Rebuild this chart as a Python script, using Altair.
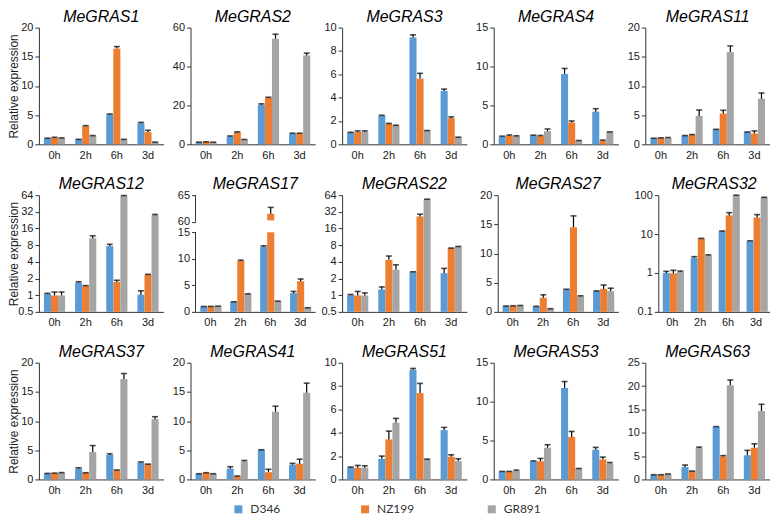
import altair as alt
import pandas as pd

# ---------------- data ----------------
times = ["0h", "2h", "6h", "3d"]
series = ["D346", "NZ199", "GR891"]
series_colors = ["#5B9BD5", "#ED7D31", "#A5A5A5"]

genes = ["MeGRAS1", "MeGRAS2", "MeGRAS3", "MeGRAS4", "MeGRAS11",
         "MeGRAS12", "MeGRAS17", "MeGRAS22", "MeGRAS27", "MeGRAS32",
         "MeGRAS37", "MeGRAS41", "MeGRAS51", "MeGRAS53", "MeGRAS63"]

# rows: D346, NZ199, GR891 ; columns: 0h, 2h, 6h, 3d
megras1_mean = [[1.0, 0.8, 5.1, 3.6], [1.1, 3.1, 16.4, 2.1], [1.05, 1.45, 0.8, 0.35]]
megras1_sd = [[0.05, 0.05, 0.1, 0.15], [0.1, 0.1, 0.35, 0.3], [0.05, 0.05, 0.05, 0.03]]
megras2_mean = [[1.0, 4.0, 20.3, 5.5], [1.2, 6.2, 23.9, 5.5], [1.0, 2.4, 54.3, 45.7]]
megras2_sd = [[0.1, 0.3, 0.5, 0.2], [0.1, 0.2, 0.3, 0.2], [0.1, 0.1, 2.3, 1.2]]
megras3_mean = [[1.0, 2.44, 9.16, 4.57], [1.06, 1.74, 5.63, 2.24], [1.06, 1.6, 1.15, 0.59]]
megras3_sd = [[0.03, 0.05, 0.22, 0.16], [0.09, 0.05, 0.45, 0.11], [0.09, 0.03, 0.03, 0.02]]
megras4_mean = [[1.0, 1.13, 9.03, 4.2], [1.1, 1.05, 2.8, 0.42], [1.05, 1.68, 0.46, 1.55]]
megras4_sd = [[0.05, 0.05, 0.72, 0.38], [0.1, 0.08, 0.2, 0.12], [0.05, 0.29, 0.03, 0.05]]
megras11_mean = [[1.0, 1.45, 2.52, 2.07], [1.06, 1.57, 5.27, 1.85], [1.06, 4.87, 15.8, 7.79]]
megras11_sd = [[0.04, 0.05, 0.05, 0.05], [0.05, 0.1, 0.56, 0.45], [0.1, 1.01, 1.06, 1.01]]
megras12_mean = [[1.05, 1.68, 7.7, 1.02], [0.99, 1.46, 1.73, 2.33], [0.99, 10.7, 62.0, 27.9]]
megras12_sd = [[0.03, 0.07, 0.6, 0.18], [0.15, 0.03, 0.13, 0.05], [0.15, 1.1, 1.0, 0.8]]
megras17_mean = [[0.99, 1.86, 12.3, 3.55], [1.0, 9.6, 61.5, 5.78], [1.05, 3.35, 2.0, 0.75]]
megras17_sd = [[0.03, 0.05, 0.15, 0.3], [0.03, 0.15, 1.2, 0.42], [0.03, 0.05, 0.03, 0.03]]
megras22_mean = [[1.0, 1.27, 2.6, 2.5], [0.99, 4.35, 26.4, 7.0], [0.99, 2.88, 53.7, 7.5]]
megras22_sd = [[0.03, 0.14, 0.05, 0.55], [0.18, 0.75, 2.6, 0.1], [0.11, 0.65, 0.5, 0.1]]
megras27_mean = [[0.96, 0.9, 3.83, 3.55], [1.0, 2.42, 14.5, 3.94], [1.05, 0.5, 2.65, 3.55]]
megras27_sd = [[0.05, 0.05, 0.05, 0.05], [0.05, 0.51, 1.95, 0.66], [0.05, 0.05, 0.1, 0.51]]
megras32_mean = [[1.0, 2.43, 11.7, 6.5], [0.98, 7.55, 30.2, 26.6], [1.07, 2.82, 98.0, 86.0]]
megras32_sd = [[0.1, 0.2, 0.3, 0.2], [0.19, 0.2, 5.3, 5.1], [0.05, 0.1, 2.0, 2.0]]
megras37_mean = [[1.0, 1.85, 4.2, 2.86], [1.06, 1.12, 1.57, 2.58], [1.12, 4.7, 17.2, 10.36]]
megras37_sd = [[0.03, 0.15, 0.2, 0.14], [0.03, 0.03, 0.05, 0.05], [0.05, 1.1, 0.95, 0.39]]
megras41_mean = [[0.95, 1.85, 5.04, 2.52], [1.12, 0.56, 1.23, 2.69], [0.95, 3.08, 11.6, 14.85]]
megras41_sd = [[0.03, 0.33, 0.05, 0.23], [0.03, 0.03, 0.51, 0.78], [0.03, 0.17, 0.95, 1.65]]
megras51_mean = [[1.03, 1.77, 9.4, 4.23], [1.0, 3.43, 7.4, 1.94], [1.0, 4.86, 1.69, 1.57]]
megras51_sd = [[0.03, 0.23, 0.11, 0.23], [0.2, 0.71, 0.83, 0.17], [0.17, 0.37, 0.05, 0.2]]
megras53_mean = [[1.0, 2.33, 11.75, 3.83], [1.0, 2.33, 5.46, 2.58], [1.08, 4.08, 1.38, 2.04]]
megras53_sd = [[0.03, 0.05, 0.83, 0.29], [0.03, 0.37, 0.71, 0.29], [0.12, 0.38, 0.03, 0.13]]
megras63_mean = [[0.98, 2.66, 11.27, 5.18], [0.98, 1.75, 4.9, 6.79], [1.12, 6.72, 20.17, 14.64]]
megras63_sd = [[0.03, 0.42, 0.05, 1.05], [0.03, 0.05, 0.2, 0.84], [0.05, 0.21, 1.13, 1.46]]

means = [megras1_mean, megras2_mean, megras3_mean, megras4_mean, megras11_mean,
         megras12_mean, megras17_mean, megras22_mean, megras27_mean, megras32_mean,
         megras37_mean, megras41_mean, megras51_mean, megras53_mean, megras63_mean]
sds = [megras1_sd, megras2_sd, megras3_sd, megras4_sd, megras11_sd,
       megras12_sd, megras17_sd, megras22_sd, megras27_sd, megras32_sd,
       megras37_sd, megras41_sd, megras51_sd, megras53_sd, megras63_sd]

# y-axis kinds and tick values
y_kind = ["linear", "linear", "linear", "linear", "linear",
          "log2", "broken", "log2", "linear", "log10",
          "linear", "linear", "linear", "linear", "linear"]
y_ticks = [[0, 5, 10, 15, 20], [0, 20, 40, 60], [0, 2, 4, 6, 8, 10], [0, 5, 10, 15], [0, 5, 10, 15, 20],
           [0.5, 1, 2, 4, 8, 16, 32, 64], [0, 5, 10, 15, 60, 65], [0.5, 1, 2, 4, 8, 16, 32, 64],
           [0, 5, 10, 15, 20], [0.1, 1, 10, 100],
           [0, 5, 10, 15, 20], [0, 5, 10, 15, 20], [0, 2, 4, 6, 8, 10], [0, 5, 10, 15], [0, 5, 10, 15, 20, 25]]

# broken axis (MeGRAS17): lower segment 0-15, upper segment 60-65
BREAK_LOW = 15
BREAK_HIGH = 60
BREAK_TOP = 65
BREAK_GAP = 2.0          # display units between the two segments
UPPER_PIECE_START = 60.25


def disp(v):
    return v if v <= BREAK_LOW else v - BREAK_HIGH + BREAK_LOW + BREAK_GAP


# ---------------- layout / style ----------------
PANEL_W = 125
PANEL_H = 117
AXIS_EXT = 22
FIRST_COL_EXT = 17
EXT_OVERRIDE = {"MeGRAS17": (27, 120), "MeGRAS27": (26, 121), "MeGRAS32": (35, 112)}
AXIS_COLOR = "#333333"
TEXT_COLOR = "#1a1a1a"
FONT = "Liberation Sans"
LEGEND_X = 194
LEGEND_Y = 477


def frames(i):
    kind = y_kind[i]
    base = y_ticks[i][0] if kind in ("log2", "log10") else 0
    rows_b, rows_e = [], []
    for si, s in enumerate(series):
        for ti, t in enumerate(times):
            v = means[i][si][ti]
            e = sds[i][si][ti]
            if kind == "broken":
                rows_b.append(dict(series=s, time=t, lo=0, hi=min(v, BREAK_LOW)))
                if v > BREAK_LOW:
                    rows_b.append(dict(series=s, time=t, lo=disp(UPPER_PIECE_START), hi=disp(v)))
                rows_e.append(dict(series=s, time=t, val=disp(v), top=disp(v + e)))
            else:
                rows_b.append(dict(series=s, time=t, lo=base, hi=v))
                rows_e.append(dict(series=s, time=t, val=v, top=v + e))
    return pd.DataFrame(rows_b), pd.DataFrame(rows_e)


def make_panel(i, col):
    gene = genes[i]
    kind = y_kind[i]
    ticks = y_ticks[i]
    bars_df, err_df = frames(i)
    ext, width = (AXIS_EXT, PANEL_W)
    if col == 0:
        ext = FIRST_COL_EXT
    if gene in EXT_OVERRIDE:
        ext, width = EXT_OVERRIDE[gene]

    if kind == "log2":
        scale = alt.Scale(type="log", base=2, domain=[ticks[0], ticks[-1]], nice=False)
    elif kind == "log10":
        scale = alt.Scale(type="log", base=10, domain=[ticks[0], ticks[-1]], nice=False)
    elif kind == "broken":
        scale = alt.Scale(domain=[0, disp(BREAK_TOP)], nice=False, zero=True)
    else:
        scale = alt.Scale(domain=[0, ticks[-1]], nice=False, zero=True)

    axis_kw = dict(labelOverlap=False, minExtent=ext, maxExtent=ext, format="~r",
                   title="Relative expression" if col == 0 else None)
    if kind == "broken":
        shift = BREAK_HIGH - disp(BREAK_HIGH)
        axis_kw.update(values=[disp(t) for t in ticks], domain=False,
                       labelExpr=f"datum.value > {BREAK_LOW + 0.5} ? format(datum.value + {shift}, 'd') : datum.label")
    else:
        axis_kw.update(values=ticks)
    yaxis = alt.Axis(**axis_kw)

    x = alt.X("time:N", sort=times, title=None,
              scale=alt.Scale(paddingInner=0.32, paddingOuter=0.16),
              axis=alt.Axis(labelAngle=0))
    xo = alt.XOffset("series:N", sort=series)
    color = alt.Color("series:N", sort=series,
                      scale=alt.Scale(domain=series, range=series_colors),
                      legend=alt.Legend(title=None, orient="none", legendX=LEGEND_X, legendY=LEGEND_Y,
                                        direction="horizontal", symbolType="square",
                                        symbolSize=64, symbolStrokeWidth=0, gridAlign="all",
                                        labelFont="Lato", labelFontSize=12, labelColor="#333333",
                                        labelOffset=6, columnPadding=71))

    bars = alt.Chart(bars_df).mark_bar().encode(
        x=x, xOffset=xo, y=alt.Y("hi:Q", scale=scale, axis=yaxis), y2="lo:Q", color=color)
    stems = alt.Chart(err_df).mark_rule(color="black", strokeWidth=1.2).encode(
        x=x, xOffset=xo, y=alt.Y("val:Q", scale=scale, axis=yaxis), y2="top:Q")
    caps = alt.Chart(err_df).mark_tick(color="black", orient="horizontal", size=6, thickness=1.6).encode(
        x=x, xOffset=xo, y=alt.Y("top:Q", scale=scale, axis=yaxis))

    layers = [bars, stems, caps]
    if kind == "broken":
        seg_df = pd.DataFrame({"a": [0, disp(BREAK_HIGH)], "b": [BREAK_LOW, disp(BREAK_TOP)]})
        segs = alt.Chart(seg_df).mark_rule(color=AXIS_COLOR, strokeWidth=1).encode(
            x=alt.value(0), y=alt.Y("a:Q", scale=scale, axis=yaxis), y2="b:Q")
        layers.append(segs)

    return alt.layer(*layers).properties(
        width=width, height=PANEL_H,
        title=alt.TitleParams(gene, fontStyle="italic", fontSize=16, font=FONT, frame="group",
                              fontWeight="normal", color="black", offset=-3, anchor="middle"))


rows = []
for r in range(3):
    panels = [make_panel(r * 5 + c, c) for c in range(5)]
    rows.append(alt.hconcat(*panels, spacing=5))

chart = alt.vconcat(*rows, spacing=16).properties(padding=0).resolve_scale(
    color="shared").resolve_legend(color="shared").configure_view(stroke=None).configure_axis(
    grid=False, domainColor=AXIS_COLOR, tickColor=AXIS_COLOR, domainWidth=1, tickWidth=1,
    labelFont=FONT, labelFontSize=11, labelColor=TEXT_COLOR,
    titleFont=FONT, titleFontSize=12, titleFontWeight="normal", titleColor=TEXT_COLOR
).configure_axisX(ticks=False, labelPadding=5).configure_axisY(tickSize=4, labelPadding=2, titlePadding=1)

chart.save("out.html", embed_options={"renderer": "svg", "actions": False})
